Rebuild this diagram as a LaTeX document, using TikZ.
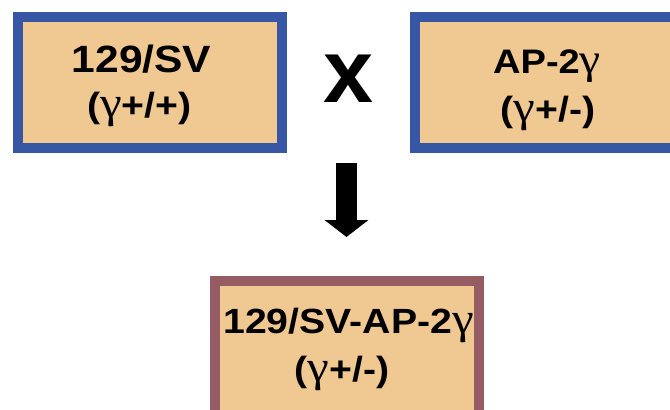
\documentclass[tikz,border=0pt]{standalone}
\usepackage{fontspec}
\usepackage{graphicx}
\setmainfont{Liberation Sans}
\newfontfamily\gfont{Liberation Serif}
\usetikzlibrary{arrows.meta}
\definecolor{boxfill}{RGB}{240,200,145}
\definecolor{blueedge}{RGB}{56,86,166}
\definecolor{mauveedge}{RGB}{150,92,100}
\newcommand{\gam}{\scalebox{1.25}{\normalfont\gfont γ}}
\newcommand{\sz}[2]{\fontsize{#1}{#1}\selectfont\bfseries\scalebox{1.12}[1]{#2}}
\tikzset{
  parent/.style={draw=blueedge, line width=10pt, fill=boxfill, rectangle, inner sep=0pt},
  child/.style={draw=mauveedge, line width=10pt, fill=boxfill, rectangle, inner sep=0pt},
  label/.style={anchor=base, inner sep=0pt, text=black},
  bigarrow/.style={line width=21pt, -{Triangle[length=17pt,width=43pt]}}
}
\begin{document}
\begin{tikzpicture}[x=1pt,y=-1pt]
\useasboundingbox (0,0) rectangle (670,410);
\clip (0,0) rectangle (670,410);
\fill[white] (0,0) rectangle (670,410);
% boxes
\node[parent, minimum width=264pt, minimum height=131pt] (b1) at (150,82.5) {};
\node[parent, minimum width=264pt, minimum height=131pt] (b2) at (547,82.5) {};
\node[child, minimum width=264pt, minimum height=140pt] (b3) at (347,351) {};
% texts
\node[label] (t1a) at (141.5,72) {\sz{38}{129/SV}};
\node[label] (t1b) at (139.5,117) {\sz{35}{(\gam+/+)}};
\node[label] (t2a) at (547,73) {\sz{34}{AP-2\gam}};
\node[label] (t2b) at (548,121) {\sz{35}{(\gam+/-)}};
\node[label] (t3a) at (348.5,333) {\sz{35}{129/SV-AP-2\gam}};
\node[label] (t3b) at (342,381) {\sz{35}{(\gam+/-)}};
% cross
\node[label] (cross) at (348.5,102) {\fontsize{90}{90}\selectfont\bfseries x};
% arrow
\coordinate (aS) at (346.5,163);
\coordinate (aE) at (346.5,237);
\draw[bigarrow] (aS) -- (aE);
\end{tikzpicture}
\end{document}
